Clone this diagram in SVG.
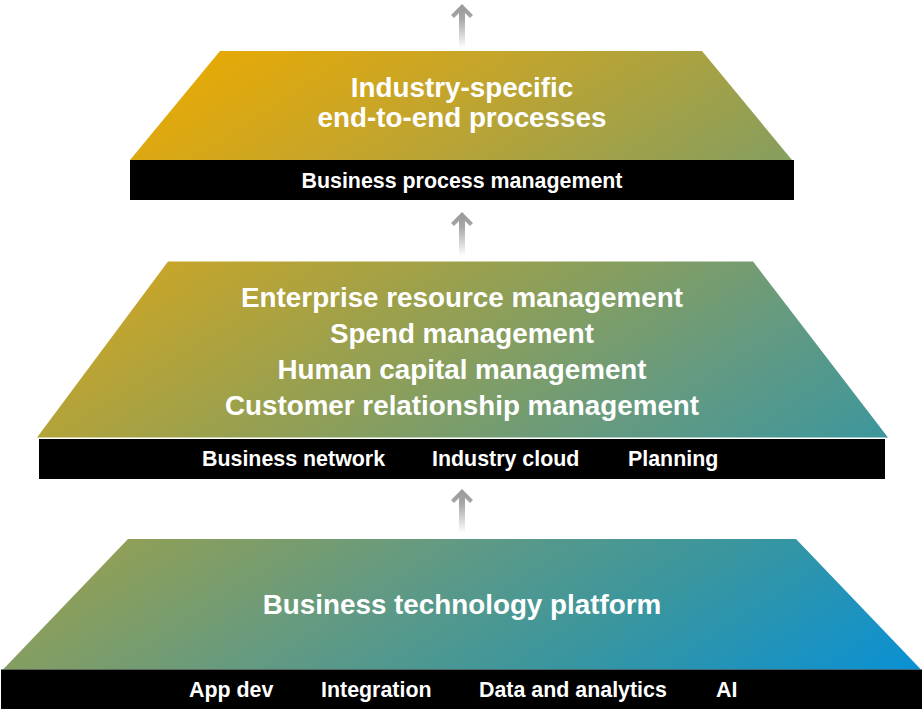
<svg xmlns="http://www.w3.org/2000/svg" width="922" height="711" viewBox="0 0 922 711">
<defs>
<linearGradient id="g" gradientUnits="userSpaceOnUse" x1="200" y1="30" x2="709" y2="820">
<stop offset="0" stop-color="#EBAA00"/>
<stop offset="0.19" stop-color="#C6A52A"/>
<stop offset="0.42" stop-color="#8E9F58"/>
<stop offset="0.6" stop-color="#639A82"/>
<stop offset="0.77" stop-color="#3A969E"/>
<stop offset="1" stop-color="#0690D8"/>
</linearGradient>
<linearGradient id="ag" x1="0" y1="0" x2="0" y2="1">
<stop offset="0" stop-color="#989898"/>
<stop offset="0.35" stop-color="#a8a8a8"/>
<stop offset="1" stop-color="#ffffff"/>
</linearGradient>
<path id="arrow" d="M0,0 L11,11 L8,14 L3,9 L3,44 L-3,44 L-3,9 L-8,14 L-11,11 Z" fill="url(#ag)"/>
</defs>
<style>
.bar{fill:#000}
.layer{fill:url(#g)}
.t{font-family:"Liberation Sans",Arial,sans-serif;font-weight:bold;fill:#fff}
.big{font-size:27.8px}
.small{font-size:21.4px}
</style>
<g id="connectors">
<use href="#arrow" transform="translate(462,4)"/>
<use href="#arrow" transform="translate(462,212)"/>
<use href="#arrow" transform="translate(462,489)"/>
</g>
<g id="top-layer">
<polygon class="layer" points="220,51 702,51 792,160 130,160"/>
<rect class="bar" x="130" y="160" width="664" height="40"/>
<text class="t big" x="462" y="97" text-anchor="middle">Industry-specific</text>
<text class="t big" x="462" y="127" text-anchor="middle">end-to-end processes</text>
<text class="t small" x="462" y="188" text-anchor="middle">Business process management</text>
</g>
<g id="middle-layer">
<polygon class="layer" points="168,261.5 753,261.5 888,437.5 37,437.5"/>
<rect class="bar" x="39" y="439" width="846" height="40"/>
<text class="t big" x="462" y="307" text-anchor="middle">Enterprise resource management</text>
<text class="t big" x="462" y="343" text-anchor="middle">Spend management</text>
<text class="t big" x="462" y="379" text-anchor="middle">Human capital management</text>
<text class="t big" x="462" y="415" text-anchor="middle">Customer relationship management</text>
<text class="t small" x="202" y="466">Business network</text>
<text class="t small" x="432" y="466">Industry cloud</text>
<text class="t small" x="628" y="466">Planning</text>
</g>
<g id="bottom-layer">
<polygon class="layer" points="128,539 796,539 921,669.5 3,669.5"/>
<rect class="bar" x="1" y="669.5" width="921" height="39.5"/>
<text class="t big" x="462" y="614" text-anchor="middle">Business technology platform</text>
<text class="t small" x="189" y="697">App dev</text>
<text class="t small" x="321" y="697">Integration</text>
<text class="t small" x="479" y="697">Data and analytics</text>
<text class="t small" x="716" y="697">AI</text>
</g>
</svg>
